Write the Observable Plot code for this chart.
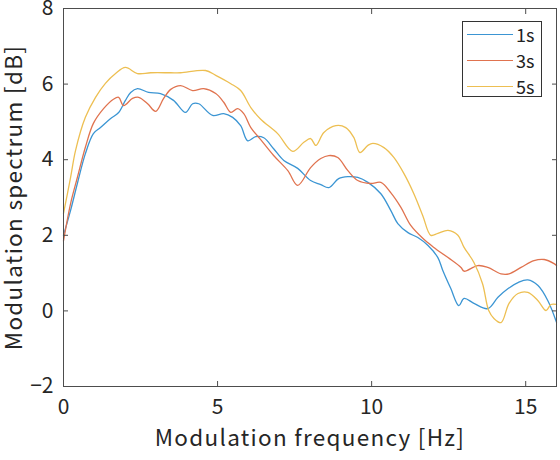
<!DOCTYPE html>
<html>
<head>
<meta charset="utf-8">
<script src="https://cdn.jsdelivr.net/npm/d3@7"></script>
<script src="https://cdn.jsdelivr.net/npm/@observablehq/plot@0.6"></script>
<style>
  html, body { margin: 0; padding: 0; background: #fff; }
  #wrap { position: relative; width: 560px; height: 460px; }
  #legend {
    position: absolute; left: 462px; top: 21px; width: 80px; height: 76px;
    border: 1px solid #333; background: #fff; box-sizing: border-box;
    font-family: "Noto Sans CJK JP", "Noto Sans", sans-serif; font-size: 18px; color: #222;
  }
  .row { position: absolute; left: 4px; height: 22px; display: flex; align-items: center; }
  .row span.sw { display: inline-block; width: 46px; height: 0; border-top: 1.4px solid; margin-right: 3px; }
</style>
</head>
<body>
<div id="wrap"><div id="legend"></div></div>
<script>
// Modulation spectrum for three analysis window lengths
const seriesNames = ["1s", "3s", "5s"];
const seriesColors = ["#3b95d3", "#e0734f", "#edbf52"];
const xLabel = "Modulation frequency [Hz]";
const yLabel = "Modulation spectrum [dB]";

const freq1s = [0, 0.23, 0.45, 0.71, 0.97, 1.2, 1.53, 1.79, 2.01, 2.18, 2.4, 2.76, 3.15, 3.57, 3.96, 4.19, 4.39, 4.84, 5.2, 5.49, 5.75, 5.98, 6.24, 6.5, 6.82, 7.15, 7.6, 8.02, 8.35, 8.61, 8.93, 9.23, 9.55, 9.88, 10.3, 10.62, 10.85, 11.18, 11.5, 11.83, 12.15, 12.31, 12.57, 12.83, 13.0, 13.32, 13.77, 14.1, 14.43, 14.75, 15.07, 15.4, 15.72, 16];
const spec1s = [2.0, 2.66, 3.37, 4.16, 4.69, 4.85, 5.09, 5.25, 5.57, 5.78, 5.88, 5.78, 5.75, 5.57, 5.25, 5.48, 5.48, 5.17, 5.22, 5.12, 4.9, 4.5, 4.61, 4.58, 4.29, 3.98, 3.77, 3.45, 3.34, 3.26, 3.5, 3.55, 3.53, 3.4, 3.1, 2.66, 2.31, 2.07, 1.94, 1.73, 1.41, 1.07, 0.59, 0.14, 0.33, 0.2, 0.06, 0.36, 0.59, 0.75, 0.82, 0.67, 0.27, -0.3];

const freq3s = [0, 0.23, 0.45, 0.71, 0.97, 1.3, 1.62, 1.79, 1.95, 2.24, 2.44, 2.73, 2.99, 3.25, 3.48, 3.8, 4.19, 4.55, 4.94, 5.2, 5.43, 5.65, 5.85, 6.08, 6.4, 6.82, 7.28, 7.6, 8.02, 8.35, 8.61, 8.9, 9.23, 9.55, 9.97, 10.3, 10.62, 10.95, 11.27, 11.66, 12.02, 12.48, 12.9, 13.0, 13.45, 13.77, 14.2, 14.46, 14.85, 15.27, 15.6, 15.92, 16];
const spec3s = [1.85, 2.84, 3.53, 4.33, 4.96, 5.35, 5.6, 5.65, 5.43, 5.62, 5.65, 5.48, 5.28, 5.62, 5.86, 5.96, 5.83, 5.88, 5.75, 5.52, 5.25, 5.35, 5.22, 4.85, 4.53, 4.11, 3.71, 3.32, 3.79, 4.03, 4.11, 4.06, 3.71, 3.45, 3.37, 3.4, 3.13, 2.74, 2.26, 1.92, 1.68, 1.41, 1.15, 1.05, 1.2, 1.15, 0.98, 0.98, 1.15, 1.33, 1.36, 1.25, 1.2];

const freq5s = [0, 0.23, 0.39, 0.71, 1.04, 1.36, 1.69, 2.01, 2.4, 2.83, 3.48, 3.8, 4.61, 4.94, 5.43, 5.75, 6.08, 6.4, 6.95, 7.44, 7.8, 8.02, 8.19, 8.45, 8.84, 9.16, 9.42, 9.62, 9.88, 10.04, 10.4, 10.72, 11.05, 11.37, 11.66, 11.92, 12.15, 12.48, 12.8, 13.0, 13.32, 13.6, 13.8, 13.97, 14.2, 14.46, 14.75, 15.07, 15.4, 15.66, 15.82, 16];
const spec5s = [2.58, 3.53, 4.24, 5.12, 5.65, 6.02, 6.28, 6.44, 6.28, 6.3, 6.3, 6.3, 6.36, 6.23, 6.01, 5.83, 5.38, 5.07, 4.69, 4.22, 4.46, 4.56, 4.38, 4.72, 4.9, 4.85, 4.59, 4.19, 4.38, 4.43, 4.32, 4.06, 3.63, 3.1, 2.52, 2.0, 2.05, 2.13, 2.0, 1.68, 1.28, 0.72, 0.01, -0.2, -0.31, 0.2, 0.46, 0.49, 0.27, 0.01, 0.17, 0.17];

const xTicks = [0, 5, 10, 15];
const yTicks = [-2, 0, 2, 4, 6, 8];

const freqs = [freq1s, freq3s, freq5s];
const specs = [spec1s, spec3s, spec5s];
const rows = seriesNames.flatMap((name, i) =>
  freqs[i].map((f, j) => ({series: name, f, v: specs[i][j]})));

const font = "'Noto Sans CJK JP', 'Noto Sans', sans-serif";
const axisColor = "#4d4d4d";

const chart = Plot.plot({
  width: 560,
  height: 460,
  marginLeft: 63,
  marginRight: 4,
  marginTop: 8,
  marginBottom: 74,
  style: {fontFamily: font, fontSize: "21px", color: "#262626", background: "#fff", overflow: "visible"},
  x: {domain: [0, 16]},
  y: {domain: [-2, 8]},
  color: {domain: seriesNames, range: seriesColors},
  marks: [
    Plot.line(rows, {x: "f", y: "v", z: "series", stroke: "series", strokeWidth: 1.3, curve: "catmull-rom"}),
    Plot.frame({stroke: axisColor, strokeWidth: 1}),
    Plot.axisX(xTicks, {anchor: "bottom", tickSize: -5, tickPadding: 18, stroke: axisColor, fill: "#262626",
      fontSize: 21, label: null}),
    Plot.axisX(xTicks, {anchor: "top", tickSize: -5, tickFormat: () => "", stroke: axisColor, label: null}),
    Plot.axisY(yTicks, {anchor: "left", tickSize: -5, tickPadding: 15, stroke: axisColor, fill: "#262626",
      fontSize: 21, label: null}),
    Plot.axisY(yTicks, {anchor: "right", tickSize: -5, tickFormat: () => "", stroke: axisColor, label: null}),
    // axis titles
    Plot.text([xLabel], {text: d => d, frameAnchor: "bottom", textAnchor: "middle", lineAnchor: "middle",
      dy: 52, fontSize: 22.5, fill: "#262626"}),
    Plot.text([yLabel], {text: d => d, frameAnchor: "left", textAnchor: "middle", lineAnchor: "middle",
      dx: -49, rotate: -90, fontSize: 22.5, fill: "#262626"})
  ]
});

// slightly wider tracking on the axis titles
d3.select(chart).selectAll("text")
  .filter(function() { return this.textContent === xLabel || this.textContent === yLabel; })
  .style("letter-spacing", "1.3px");

document.getElementById("wrap").prepend(chart);

// Legend inside the plot area
const legend = d3.select("#legend");
seriesNames.forEach((name, i) => {
  const row = legend.append("div").attr("class", "row").style("top", (1 + i * 26) + "px");
  row.append("span").attr("class", "sw").style("border-color", seriesColors[i]);
  row.append("span").text(name);
});
</script>
</body>
</html>
